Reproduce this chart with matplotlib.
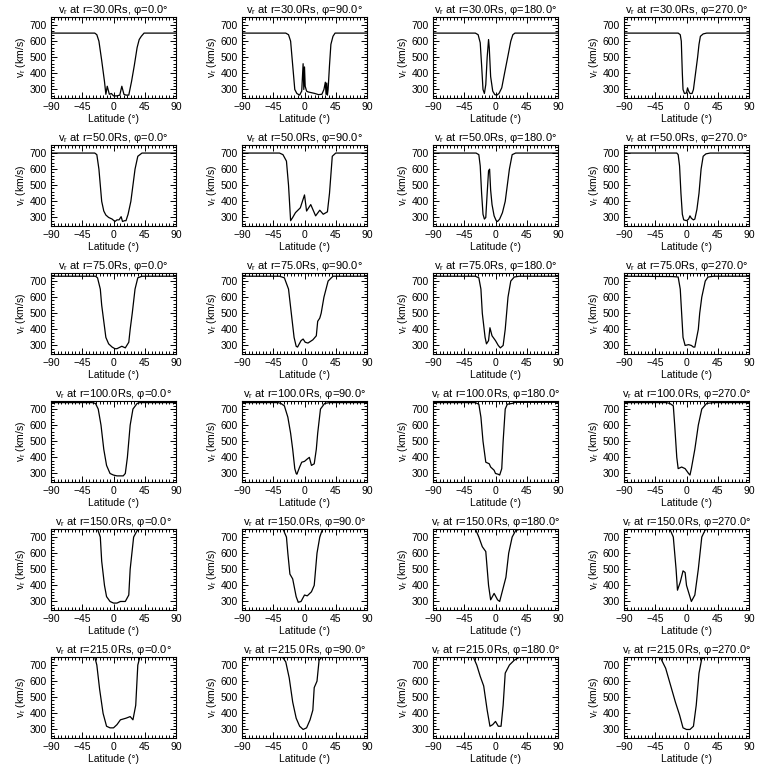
import matplotlib
matplotlib.use('Agg')
import matplotlib.pyplot as plt
from matplotlib.ticker import MultipleLocator

plt.rcParams['font.family'] = ['Liberation Sans', 'DejaVu Sans']
plt.rcParams['mathtext.fontset'] = 'custom'
plt.rcParams['mathtext.rm'] = 'Liberation Sans'
plt.rcParams['mathtext.it'] = 'Liberation Sans'

radii = [30.0, 50.0, 75.0, 100.0, 150.0, 215.0]
phis = [0.0, 90.0, 180.0, 270.0]

# r = 30 Rs
lat_r30_p0 = [-90, -27, -24, -21, -17, -13, -11, -9, -6, -3, 0, 5, 9, 12, 15, 18, 22, 26, 30, 34, 37, 40, 44, 90]
v_r30_p0 = [650, 650, 640, 600, 480, 350, 270, 320, 270, 275, 260, 260, 265, 320, 270, 265, 265, 350, 450, 560, 610, 630, 650, 650]
lat_r30_p90 = [-90, -27, -23, -20, -17, -14, -11, -7, -4, -2, -1, 0, 1, 3, 5, 10, 15, 20, 25, 28, 30, 31, 32, 33, 34, 36, 38, 41, 44, 90]
v_r30_p90 = [650, 650, 640, 600, 450, 300, 275, 265, 290, 460, 300, 440, 320, 290, 285, 280, 275, 268, 270, 300, 345, 270, 340, 265, 300, 450, 580, 630, 650, 650]
lat_r30_p180 = [-90, -29, -25, -22, -20, -18, -16, -14, -12, -10, -9, -7, -4, -1, 2, 5, 9, 13, 18, 22, 25, 28, 90]
v_r30_p180 = [650, 650, 640, 590, 450, 300, 275, 330, 500, 610, 560, 380, 290, 268, 265, 275, 310, 400, 510, 600, 640, 650, 650]
lat_r30_p270 = [-90, -12, -9, -7.5, -6, -5, -3, 0, 1.5, 3, 5, 8, 10, 13, 16, 18, 20, 24, 29, 90]
v_r30_p270 = [650, 650, 640, 600, 400, 300, 275, 278, 310, 290, 275, 275, 300, 400, 500, 580, 630, 645, 650, 650]

# r = 50 Rs
lat_r50_p0 = [-90, -27, -24, -21, -19, -17, -14, -11, -7, -2, 2, 5, 8, 11, 13, 16, 18, 21, 25, 28, 31, 35, 41, 90]
v_r50_p0 = [700, 700, 690, 600, 500, 400, 340, 315, 300, 290, 275, 285, 285, 305, 275, 280, 280, 320, 400, 500, 600, 680, 700, 700]
lat_r50_p90 = [-90, -36, -31, -26, -23, -20, -17, -13, -6, 0, 3, 9, 16, 22, 27, 33, 36, 40, 45, 90]
v_r50_p90 = [700, 700, 690, 650, 500, 280, 300, 330, 360, 440, 340, 380, 310, 345, 320, 335, 450, 680, 700, 700]
lat_r50_p180 = [-90, -28, -24, -22, -20, -18, -16, -14, -12, -10, -8.5, -7, -5, -2, 1, 3, 6, 10, 14, 17, 20, 24, 29, 90]
v_r50_p180 = [700, 700, 690, 620, 450, 320, 290, 300, 450, 590, 600, 470, 380, 310, 280, 275, 290, 330, 400, 500, 600, 690, 700, 700]
lat_r50_p270 = [-90, -14, -12, -10, -8, -6, -4, 0, 3, 5, 7, 10, 12, 15, 18, 21, 24, 28, 34, 90]
v_r50_p270 = [700, 700, 690, 620, 450, 320, 285, 280, 290, 310, 295, 285, 290, 350, 450, 600, 680, 695, 700, 700]

# r = 75 Rs
lat_r75_p0 = [-90, -26, -23, -19, -17, -14, -11, -7, -2, 2, 5, 12, 17, 22, 24, 27, 31, 35, 41, 90]
v_r75_p0 = [730, 730, 720, 650, 550, 450, 350, 310, 290, 280, 280, 295, 285, 320, 400, 500, 650, 720, 730, 730]
lat_r75_p90 = [-90, -36, -29, -23, -19, -15, -12, -10, -5, -2, 1, 5, 12, 17, 19, 22, 24, 28, 34, 41, 90]
v_r75_p90 = [730, 730, 720, 650, 500, 350, 295, 290, 330, 340, 320, 315, 335, 360, 450, 470, 500, 600, 700, 730, 730]
lat_r75_p180 = [-90, -29, -24, -21, -19, -15, -13, -10, -8, -5, 0, 4, 7, 11, 14, 18, 22, 27, 34, 90]
v_r75_p180 = [730, 730, 720, 650, 500, 350, 310, 330, 410, 360, 330, 300, 285, 300, 400, 600, 700, 725, 730, 730]
lat_r75_p270 = [-90, -20, -12, -9, -7, -5, -2, 3, 7, 10, 12, 17, 19, 22, 27, 31, 39, 90]
v_r75_p270 = [730, 728, 725, 650, 500, 350, 300, 305, 300, 290, 290, 400, 500, 600, 700, 725, 730, 730]

# r = 100 Rs
lat_r100_p0 = [-90, -31, -26, -22, -18, -14, -10, -5, 0, 5, 14, 17, 20, 24, 28, 34, 38, 90]
v_r100_p0 = [740, 740, 735, 700, 600, 450, 350, 300, 290, 285, 285, 300, 400, 600, 700, 735, 740, 740]
lat_r100_p90 = [-90, -38, -34, -29, -24, -20, -17, -14, -12, -11, -7, -4, 0, 4, 7, 10, 14, 17, 19, 23, 29, 36, 90]
v_r100_p90 = [740, 740, 735, 720, 650, 550, 450, 330, 300, 295, 340, 370, 375, 390, 400, 350, 360, 450, 550, 700, 735, 740, 740]
lat_r100_p180 = [-90, -29, -24, -21, -18, -14, -9, -7, -2, 0, 4, 6, 9, 11, 14, 17, 24, 29, 90]
v_r100_p180 = [740, 740, 730, 650, 500, 370, 360, 340, 320, 300, 295, 290, 330, 500, 700, 730, 735, 742, 742]
lat_r100_p270 = [-90, -29, -24, -19, -17, -14, -12, -7, -2, 3, 5, 7, 12, 17, 22, 29, 39, 90]
v_r100_p270 = [740, 740, 735, 720, 600, 400, 330, 340, 330, 300, 290, 330, 450, 600, 700, 735, 740, 740]

# r = 150 Rs
lat_r150_p0 = [-90, -23, -19, -17, -13, -10, -5, 0, 5, 10, 17, 22, 24, 29, 34, 38, 90]
v_r150_p0 = [750, 750, 700, 550, 400, 330, 300, 290, 290, 300, 300, 340, 500, 700, 740, 750, 750]
lat_r150_p90 = [-90, -31, -26, -24, -21, -17, -12, -9, -5, 0, 4, 10, 14, 18, 22, 26, 90]
v_r150_p90 = [750, 750, 700, 600, 470, 440, 330, 295, 300, 340, 335, 360, 400, 600, 700, 750, 750]
lat_r150_p180 = [-90, -29, -24, -19, -14, -10, -7, -2, 3, 6, 12, 15, 19, 24, 29, 36, 90]
v_r150_p180 = [750, 750, 700, 640, 610, 400, 310, 350, 310, 300, 400, 450, 600, 700, 740, 750, 750]
lat_r150_p270 = [-90, -24, -19, -15, -13, -9, -5, -2, 0, 7, 12, 17, 22, 27, 34, 90]
v_r150_p270 = [750, 750, 700, 500, 370, 420, 490, 480, 400, 300, 340, 500, 700, 745, 750, 750]

# r = 215 Rs
lat_r215_p0 = [-90, -27, -24, -20, -15, -10, -5, 0, 5, 10, 18, 24, 28, 32, 35, 38, 90]
v_r215_p0 = [750, 750, 700, 550, 400, 320, 310, 310, 330, 360, 370, 380, 360, 450, 700, 750, 750]
lat_r215_p90 = [-90, -32, -27, -22, -17, -12, -7, -2, 3, 8, 12, 14, 16, 18, 21, 25, 90]
v_r215_p90 = [750, 750, 720, 620, 470, 370, 320, 300, 310, 360, 420, 560, 580, 600, 730, 750, 750]
lat_r215_p180 = [-90, -32, -27, -22, -17, -12, -8, -4, 0, 4, 8, 11, 14, 20, 27, 35, 90]
v_r215_p180 = [750, 750, 700, 630, 570, 420, 320, 330, 350, 320, 320, 450, 650, 700, 730, 750, 750]
lat_r215_p270 = [-90, -38, -30, -22, -16, -10, -5, 0, 5, 10, 14, 18, 22, 28, 90]
v_r215_p270 = [750, 750, 680, 560, 470, 390, 310, 300, 300, 320, 450, 650, 740, 750, 750]

lats = [
    [lat_r30_p0, lat_r30_p90, lat_r30_p180, lat_r30_p270],
    [lat_r50_p0, lat_r50_p90, lat_r50_p180, lat_r50_p270],
    [lat_r75_p0, lat_r75_p90, lat_r75_p180, lat_r75_p270],
    [lat_r100_p0, lat_r100_p90, lat_r100_p180, lat_r100_p270],
    [lat_r150_p0, lat_r150_p90, lat_r150_p180, lat_r150_p270],
    [lat_r215_p0, lat_r215_p90, lat_r215_p180, lat_r215_p270],
]
vels = [
    [v_r30_p0, v_r30_p90, v_r30_p180, v_r30_p270],
    [v_r50_p0, v_r50_p90, v_r50_p180, v_r50_p270],
    [v_r75_p0, v_r75_p90, v_r75_p180, v_r75_p270],
    [v_r100_p0, v_r100_p90, v_r100_p180, v_r100_p270],
    [v_r150_p0, v_r150_p90, v_r150_p180, v_r150_p270],
    [v_r215_p0, v_r215_p90, v_r215_p180, v_r215_p270],
]

fig = plt.figure(figsize=(7.68, 7.68), dpi=100)

for i, r in enumerate(radii):
    for j, p in enumerate(phis):
        left = (51 + 191 * j) / 768
        bottom = 1 - (98 + 128 * i) / 768
        ax = fig.add_axes([left, bottom, 125 / 768, 81 / 768])
        ax.plot(lats[i][j], vels[i][j], color='black', lw=0.9)
        ax.set_xlim(-90, 90)
        ax.set_ylim(247, 750)
        ax.set_xticks([-90, -45, 0, 45, 90])
        ax.set_yticks([300, 400, 500, 600, 700])
        ax.xaxis.set_minor_locator(MultipleLocator(5))
        ax.yaxis.set_minor_locator(MultipleLocator(20))
        ax.tick_params(which='both', direction='in', top=True, right=True,
                       labelsize=7.5, width=0.7, pad=3)
        ax.tick_params(which='major', length=4)
        ax.tick_params(which='minor', length=2)
        for s in ax.spines.values():
            s.set_linewidth(0.8)
        ax.set_title(f'v$_r$ at r={r:.1f}Rs, φ={p:.1f}°', fontsize=8, pad=3)
        ax.set_xlabel('Latitude (°)', fontsize=7.5, labelpad=1)
        ax.set_ylabel('v$_r$ (km/s)', fontsize=7.5, labelpad=1)

fig.savefig('out.png', dpi=100, facecolor='white')
